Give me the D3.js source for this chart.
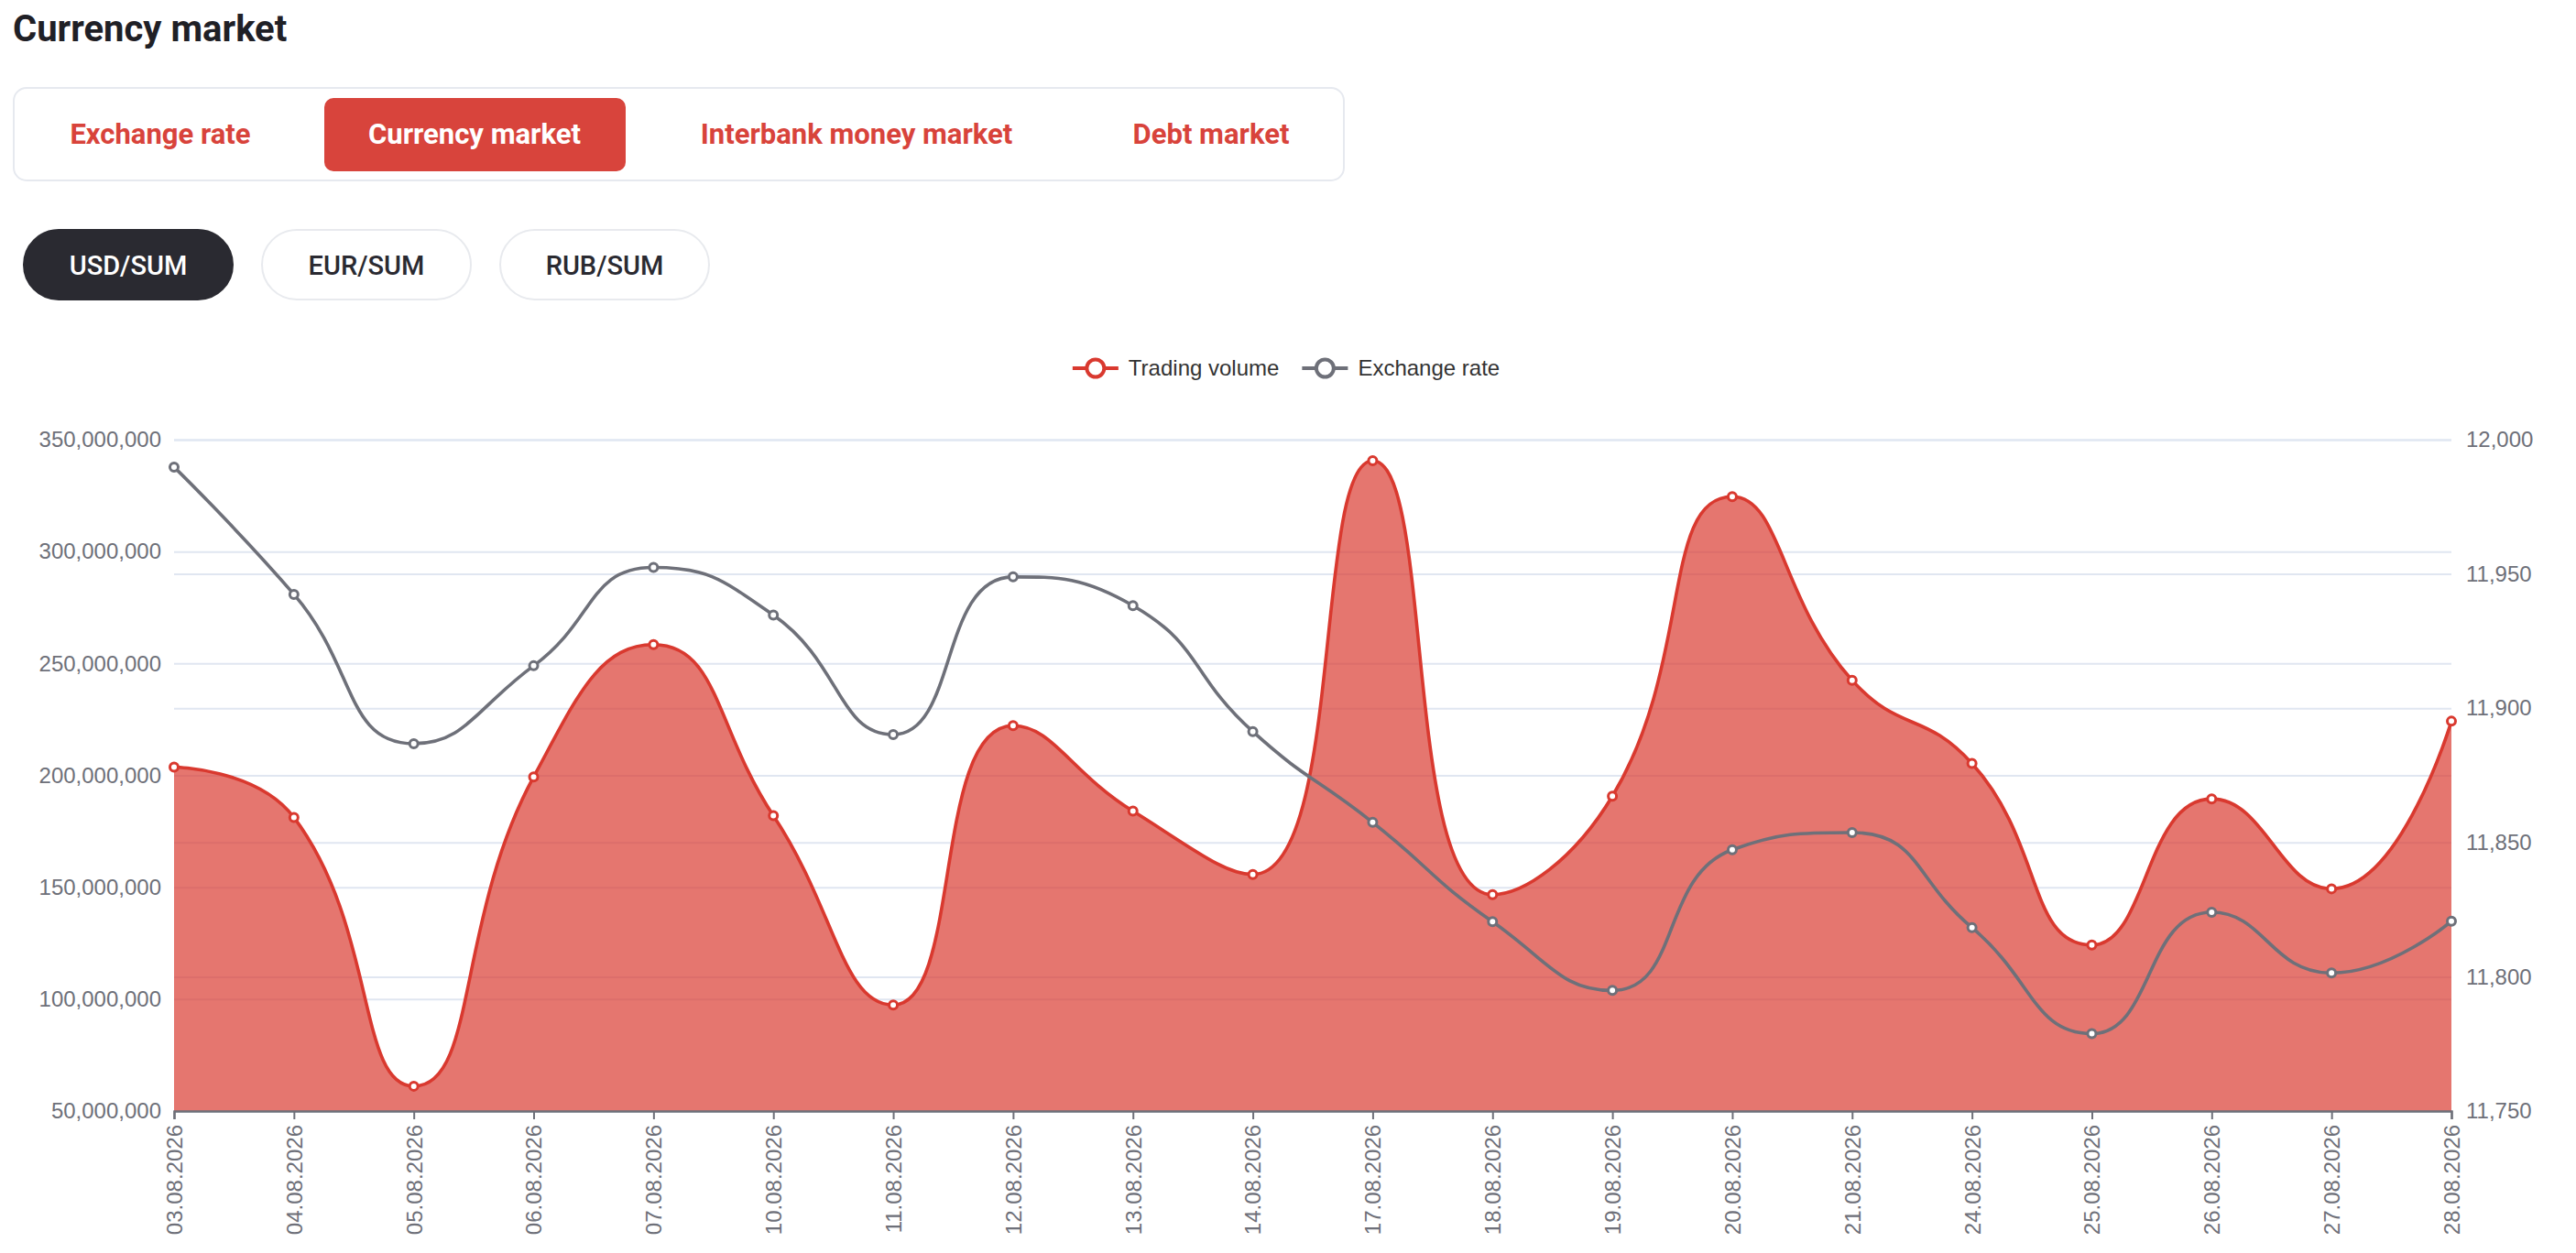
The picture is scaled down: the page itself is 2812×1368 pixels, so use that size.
<!DOCTYPE html>
<html>
<head>
<meta charset="utf-8">
<script src="https://cdn.jsdelivr.net/npm/d3@7/dist/d3.min.js"></script>
<style>
  html, body { margin: 0; padding: 0; background: #fff; }
  svg { display: block; }
</style>
</head>
<body>
<script>
// --- data ---
var dates = ["03.08.2026", "04.08.2026", "05.08.2026", "06.08.2026", "07.08.2026",
             "10.08.2026", "11.08.2026", "12.08.2026", "13.08.2026", "14.08.2026",
             "17.08.2026", "18.08.2026", "19.08.2026", "20.08.2026", "21.08.2026",
             "24.08.2026", "25.08.2026", "26.08.2026", "27.08.2026", "28.08.2026"];
var volume = [203.7e6, 181.2e6, 61.1e6, 199.3e6, 258.4e6,
              182.0e6, 97.4e6, 222.2e6, 184.0e6, 155.7e6,
              340.6e6, 146.7e6, 190.7e6, 324.5e6, 242.5e6,
              205.3e6, 124.2e6, 189.5e6, 149.3e6, 224.2e6];
var rate = [11989.8, 11942.4, 11886.8, 11915.8, 11952.4,
            11934.7, 11890.2, 11948.9, 11938.2, 11891.3,
            11857.5, 11820.5, 11794.9, 11847.3, 11853.7,
            11818.3, 11778.8, 11824.0, 11801.4, 11820.7];
var volumeTicks = [50e6, 100e6, 150e6, 200e6, 250e6, 300e6, 350e6];
var rateTicks = [11750, 11800, 11850, 11900, 11950, 12000];
var seriesNames = ["Trading volume", "Exchange rate"];
var tabNames = ["Exchange rate", "Currency market", "Interbank money market", "Debt market"];
var pairNames = ["USD/SUM", "EUR/SUM", "RUB/SUM"];

var W = 2812, H = 1368;
var red = "#d9392f", gray = "#6e7079", grid = "#e0e6f1";
var chartFont = "'Liberation Sans', Arial, sans-serif";
var uiFont = "Roboto, 'Noto Sans', sans-serif";

var svg = d3.select("body").append("svg").attr("width", W).attr("height", H);
svg.append("rect").attr("width", W).attr("height", H).attr("fill", "#fff");

// --- header ---
svg.append("text").attr("x", 14).attr("y", 45)
  .attr("font-family", uiFont).attr("font-weight", 700).attr("font-size", 40)
  .attr("fill", "#1f2026").text("Currency market");

svg.append("rect").attr("x", 15).attr("y", 96).attr("width", 1452).attr("height", 101)
  .attr("rx", 14).attr("fill", "#fff").attr("stroke", "#e6e9ef").attr("stroke-width", 2);

var tabCenters = [175, 518, 935, 1322];
svg.append("rect").attr("x", 354).attr("y", 107).attr("width", 329).attr("height", 80)
  .attr("rx", 10).attr("fill", "#d8443c");
svg.selectAll(".tab").data(tabNames).enter().append("text")
  .attr("class", "tab")
  .attr("x", function(d, i) { return tabCenters[i]; })
  .attr("y", 157)
  .attr("text-anchor", "middle")
  .attr("font-family", uiFont).attr("font-weight", 700).attr("font-size", 31)
  .attr("fill", function(d, i) { return i === 1 ? "#fff" : "#d8433b"; })
  .text(function(d) { return d; });

var pillCenters = [140, 400, 660];
var pills = svg.selectAll(".pill").data(pairNames).enter().append("g")
  .attr("class", "pill")
  .attr("transform", function(d, i) { return "translate(" + pillCenters[i] + ",289)"; });
pills.append("rect").attr("x", -114).attr("y", -38).attr("width", 228).attr("height", 76)
  .attr("rx", 38)
  .attr("fill", function(d, i) { return i === 0 ? "#2a2a31" : "#fff"; })
  .attr("stroke", function(d, i) { return i === 0 ? "#2a2a31" : "#e8eaee"; })
  .attr("stroke-width", 2);
pills.append("text").attr("y", 10.5).attr("text-anchor", "middle")
  .attr("font-family", uiFont).attr("font-weight", 500).attr("font-size", 29)
  .attr("fill", function(d, i) { return i === 0 ? "#fff" : "#2a2a31"; })
  .text(function(d) { return d; });

// --- chart ---
var plotLeft = 190, plotRight = 2676, plotTop = 480, plotBottom = 1213;

var x = d3.scalePoint().domain(dates).range([plotLeft, plotRight]);
var yL = d3.scaleLinear().domain([50e6, 350e6]).range([plotBottom, plotTop]);
var yR = d3.scaleLinear().domain([11750, 12000]).range([plotBottom, plotTop]);

// split lines for both axes
svg.append("g").attr("transform", "translate(" + plotLeft + ",0)")
  .call(d3.axisLeft(yL).tickValues(volumeTicks).tickSize(-(plotRight - plotLeft)).tickFormat(""))
  .call(function(g) { g.select(".domain").remove(); g.selectAll("line").attr("stroke", grid).attr("stroke-width", 2); });
svg.append("g").attr("transform", "translate(" + plotRight + ",0)")
  .call(d3.axisRight(yR).tickValues(rateTicks).tickSize(-(plotRight - plotLeft)).tickFormat(""))
  .call(function(g) { g.select(".domain").remove(); g.selectAll("line").attr("stroke", grid).attr("stroke-width", 2); });

// axis labels
var fmt = d3.format(",");
svg.append("g").attr("transform", "translate(" + plotLeft + ",0)")
  .call(d3.axisLeft(yL).tickValues(volumeTicks).tickSize(0).tickPadding(14).tickFormat(fmt))
  .call(function(g) {
    g.select(".domain").remove();
    g.selectAll("text").attr("font-family", chartFont).attr("font-size", 24).attr("fill", gray);
  });
svg.append("g").attr("transform", "translate(" + plotRight + ",0)")
  .call(d3.axisRight(yR).tickValues(rateTicks).tickSize(0).tickPadding(16).tickFormat(fmt))
  .call(function(g) {
    g.select(".domain").remove();
    g.selectAll("text").attr("font-family", chartFont).attr("font-size", 24).attr("fill", gray);
  });

// ECharts-like smoothing (smooth 0.5 with extreme constraint)
function SmoothCurve(context) { this._context = context; }
SmoothCurve.prototype = {
  areaStart: function() { this._line = 0; },
  areaEnd: function() { this._line = NaN; },
  lineStart: function() { this._xs = []; this._ys = []; },
  point: function(px, py) { this._xs.push(+px); this._ys.push(+py); },
  lineEnd: function() {
    var xs = this._xs, ys = this._ys, n = xs.length, c = this._context, s = 0.5;
    if (n) {
      if (this._line) c.lineTo(xs[0], ys[0]); else c.moveTo(xs[0], ys[0]);
      var cpx0 = xs[0], cpy0 = ys[0];
      for (var i = 1; i < n; i++) {
        var px = xs[i - 1], py = ys[i - 1], cx = xs[i], cy = ys[i];
        var cpx1, cpy1, ncx = cx, ncy = cy;
        if (i === n - 1) { cpx1 = cx; cpy1 = cy; }
        else {
          var nx = xs[i + 1], ny = ys[i + 1];
          var vx = nx - px, vy = ny - py;
          var lp = Math.hypot(cx - px, cy - py), ln = Math.hypot(nx - cx, ny - cy);
          var r = ln / (ln + lp);
          ncx = cx + vx * s * r; ncy = cy + vy * s * r;
          ncx = Math.max(Math.min(ncx, Math.max(nx, cx)), Math.min(nx, cx));
          ncy = Math.max(Math.min(ncy, Math.max(ny, cy)), Math.min(ny, cy));
          vx = ncx - cx; vy = ncy - cy;
          cpx1 = cx - vx * lp / ln; cpy1 = cy - vy * lp / ln;
          cpx1 = Math.max(Math.min(cpx1, Math.max(px, cx)), Math.min(px, cx));
          cpy1 = Math.max(Math.min(cpy1, Math.max(py, cy)), Math.min(py, cy));
          vx = cx - cpx1; vy = cy - cpy1;
          ncx = cx + vx * ln / lp; ncy = cy + vy * ln / lp;
        }
        c.bezierCurveTo(cpx0, cpy0, cpx1, cpy1, cx, cy);
        cpx0 = ncx; cpy0 = ncy;
      }
    }
    if (this._line || (this._line !== 0 && n === 1)) c.closePath();
    this._line = 1 - this._line;
  }
};
function smoothCurve(context) { return new SmoothCurve(context); }

var volArea = d3.area()
  .x(function(d, i) { return x(dates[i]); })
  .y0(yL(50e6))
  .y1(function(d) { return yL(d); })
  .curve(smoothCurve);
var volLine = d3.line()
  .x(function(d, i) { return x(dates[i]); })
  .y(function(d) { return yL(d); })
  .curve(smoothCurve);
var rateLine = d3.line()
  .x(function(d, i) { return x(dates[i]); })
  .y(function(d) { return yR(d); })
  .curve(smoothCurve);

svg.append("path").datum(volume).attr("d", volArea)
  .attr("fill", red).attr("fill-opacity", 0.69);
svg.append("path").datum(volume).attr("d", volLine)
  .attr("fill", "none").attr("stroke", red).attr("stroke-width", 3.6);
svg.append("path").datum(rate).attr("d", rateLine)
  .attr("fill", "none").attr("stroke", gray).attr("stroke-width", 3.6);

// x axis
svg.append("g").attr("transform", "translate(0," + plotBottom + ")")
  .call(d3.axisBottom(x).tickSize(9).tickPadding(6))
  .call(function(g) {
    g.select(".domain").attr("stroke", gray).attr("stroke-width", 2.4);
    g.selectAll(".tick line").attr("stroke", gray).attr("stroke-width", 2);
    g.selectAll("text")
      .attr("font-family", chartFont).attr("font-size", 24).attr("fill", gray)
      .attr("text-anchor", "end")
      .attr("transform", "rotate(-90)")
      .attr("x", -15).attr("y", 0).attr("dy", "0.35em");
  });

// markers
svg.selectAll(".vdot").data(volume).enter().append("circle")
  .attr("class", "vdot")
  .attr("cx", function(d, i) { return x(dates[i]); })
  .attr("cy", function(d) { return yL(d); })
  .attr("r", 4.5).attr("fill", "#fff").attr("stroke", red).attr("stroke-width", 3);
svg.selectAll(".rdot").data(rate).enter().append("circle")
  .attr("class", "rdot")
  .attr("cx", function(d, i) { return x(dates[i]); })
  .attr("cy", function(d) { return yR(d); })
  .attr("r", 4.5).attr("fill", "#fff").attr("stroke", gray).attr("stroke-width", 3);

// legend
var legendColors = [red, gray];
var legend = svg.append("g");
var lx = 0;
seriesNames.forEach(function(name, i) {
  var item = legend.append("g").attr("transform", "translate(" + lx + ",0)");
  item.append("line").attr("x1", 0).attr("x2", 50).attr("y1", 0).attr("y2", 0)
    .attr("stroke", legendColors[i]).attr("stroke-width", 4);
  item.append("circle").attr("cx", 25).attr("cy", 0).attr("r", 9.5)
    .attr("fill", "#fff").attr("stroke", legendColors[i]).attr("stroke-width", 4);
  var t = item.append("text").attr("x", 61).attr("y", 0).attr("dy", "0.35em")
    .attr("font-family", chartFont).attr("font-size", 24).attr("fill", "#333")
    .text(name);
  lx += 61 + t.node().getComputedTextLength() + 25;
});
var legendWidth = lx - 25;
legend.attr("transform", "translate(" + (1404 - legendWidth / 2) + ",402)");
</script>
</body>
</html>
